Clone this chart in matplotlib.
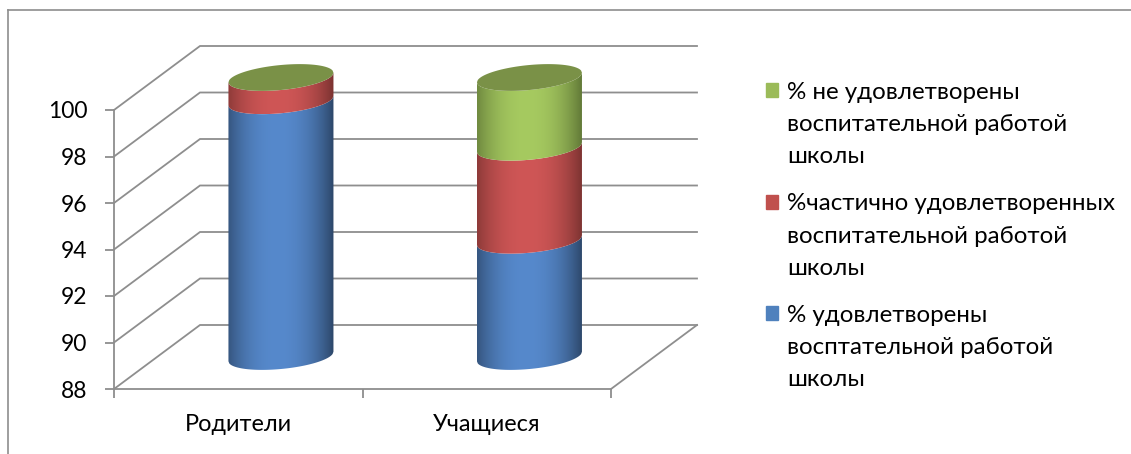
import numpy as np
import matplotlib
matplotlib.use("Agg")
import matplotlib.pyplot as plt
from matplotlib.legend_handler import HandlerPatch
from matplotlib.lines import Line2D
from matplotlib.patches import Patch, Polygon, Rectangle

plt.rcParams['font.family'] = ['Lato', 'Open Sans', 'DejaVu Sans']

categories = ["Родители", "Учащиеся"]
series_names = ["% удовлетворены\nвосптательной работой\nшколы",
                "%частично удовлетворенных\nвоспитательной работой\nшколы",
                "% не удовлетворены\nвоспитательной работой\nшколы"]
satisfied = [99, 93]
partly = [1, 4]
unsatisfied = [0, 3]
y_ticks = [88, 90, 92, 94, 96, 98, 100]

W, H = 1131, 454
BASE = 88
GRID = "#8e8e8e"
flat = ["#4f81bd", "#c0504d", "#9bbb59"]
mid = ["#5689cc", "#cf5656", "#a6ca60"]
edge = ["#2c4668", "#7a3230", "#5f7636"]
top_col = "#7a9147"

fig = plt.figure(figsize=(W / 100, H / 100), dpi=100)
ax = fig.add_axes([114 / W, 1 - 389 / H, 497 / W, 279 / H])
ax.patch.set_alpha(0)

px_x = 2 / 497
px_y = 12 / 279
dx, dy = 86 * px_x, 64 * px_y      # depth of the 3-D box
cdx, cdy = 42.7 * px_x, 32.5 * px_y    # cylinder axis offset
hw = 52.5 * px_x
slope = 4.8 * px_y
minor = 12.5 * px_y

# frame of the chart
for xs, ys in (([8, 8], [454, 10]), ([8, W], [10, 10])):
    fig.add_artist(Line2D(np.array(xs) / W, 1 - np.array(ys) / H, color=GRID, lw=1.2))

# walls
for v in y_ticks:
    ax.plot([0, dx, 2 + dx], [v, v + dy, v + dy], color=GRID, lw=1.3, clip_on=False, zorder=1,
            solid_joinstyle="miter")
ax.plot([2, 2 + dx], [BASE, BASE + dy], color=GRID, lw=1.3, clip_on=False, zorder=1)

# cylinders
u = np.linspace(-1, 1, 121)
t = np.linspace(0, 1, 256)
prof = np.clip(1 - (np.abs(t - 0.47) / 0.53) ** 2.2, 0, 1)


def curve(cx, v, sign):
    return cx + u * hw, v + cdy + slope * u + sign * minor * np.sqrt(1 - u ** 2)


for i in range(len(categories)):
    cx = i + 0.5 + cdx
    total = 0
    for s, vals in enumerate((satisfied, partly, unsatisfied)):
        lower = max(total, BASE)
        total += vals[i]
        if vals[i] > 0:
            x0, y0 = curve(cx, lower, -1)
            x1, y1 = curve(cx, total, -1)
            poly = Polygon(np.column_stack([np.r_[x0, x1[::-1]], np.r_[y0, y1[::-1]]]),
                           closed=True, transform=ax.transData)
            a = np.array(matplotlib.colors.to_rgb(edge[s]))
            b = np.array(matplotlib.colors.to_rgb(mid[s]))
            img = (a[None, :] + (b - a)[None, :] * prof[:, None])[None, :, :]
            im = ax.imshow(img, extent=(cx - hw, cx + hw, min(y0.min(), y1.min()), max(y0.max(), y1.max())),
                           aspect="auto", zorder=3 + s, interpolation="bilinear", origin="lower")
            im.set_clip_box(fig.bbox)
            im.set_clip_path(poly)
    x0, y0 = curve(cx, total, -1)
    x1, y1 = curve(cx, total, 1)
    ax.fill(np.r_[x0, x1[::-1]], np.r_[y0, y1[::-1]], color=top_col, lw=0, zorder=8, clip_on=False)

ax.set_xlim(0, 2)
ax.set_ylim(BASE, 100)
for sp in ("top", "right"):
    ax.spines[sp].set_visible(False)
for sp in ("left", "bottom"):
    ax.spines[sp].set_color(GRID)
    ax.spines[sp].set_linewidth(1.3)
ax.set_yticks(y_ticks)
ax.set_xticks([0, 1, 2])
ax.set_xticklabels([])
ax.set_xticks([0.5, 1.5], labels=categories, minor=True)
ax.tick_params(axis="both", which="major", color=GRID, width=1.3, length=6.5, labelsize=16.5, pad=12.5)
ax.tick_params(axis="x", which="minor", length=0, labelsize=16.9, pad=18)


def first_line_swatch(legend, orig_handle, xdescent, ydescent, width, height, fontsize):
    return Rectangle((-xdescent, -ydescent + 24.7), width, height)


handles = [Patch(color=flat[k]) for k in (2, 1, 0)]
labels = [series_names[k] for k in (2, 1, 0)]
leg = fig.legend(handles, labels, loc="upper left", bbox_to_anchor=(766 / W, 1 - 82 / H),
                 frameon=False, fontsize=17.4, handlelength=0.5, handleheight=0.5,
                 handletextpad=0.37, labelspacing=1.07, borderpad=0, borderaxespad=0,
                 handler_map={Patch: HandlerPatch(patch_func=first_line_swatch)})
for txt in leg.get_texts():
    txt.set_linespacing(1.66)

fig.savefig("out.png", dpi=100)
